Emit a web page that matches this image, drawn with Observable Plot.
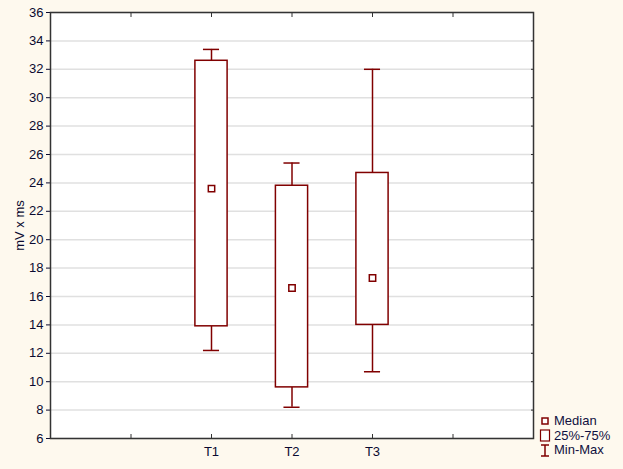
<!DOCTYPE html>
<html><head><meta charset="utf-8">
<script src="https://cdn.jsdelivr.net/npm/d3@7"></script>
<script src="https://cdn.jsdelivr.net/npm/@observablehq/plot@0.6"></script>
<style>
body{margin:0;background:#fef9ee;font-family:Arial,"Liberation Sans",sans-serif;}
#wrap{position:relative;width:623px;height:469px;}
#wrap svg text{font-size:13px;fill:#0a0a30;}
#legend{position:absolute;left:539px;top:414px;font-size:13px;color:#101040;line-height:14.5px;}
#legend div{display:flex;align-items:center;white-space:nowrap;}
#legend svg{margin-right:3px;flex:none;}
</style></head><body><div id="wrap"></div>
<script>
const categories = ["T1", "T2", "T3"];
const positions = [2, 3, 4];
const minVals = [12.2, 8.2, 10.7];
const q1Vals = [13.9, 9.6, 14.0];
const medianVals = [23.6, 16.6, 17.3];
const q3Vals = [32.6, 23.8, 24.7];
const maxVals = [33.4, 25.4, 32.0];
const yTicks = d3.range(6, 37, 2);
const xTicks = [1, 2, 3, 4, 5];
const legendLabels = ["Median", "25%-75%", "Min-Max"];

const data = categories.map((c, i) => ({
  cat: c, x: positions[i], min: minVals[i], q1: q1Vals[i],
  med: medianVals[i], q3: q3Vals[i], max: maxVals[i]
}));
const boxHalf = 0.2, capHalf = 0.1;
const red = "#800000";
const textColor = "#0a0a30";

const chart = Plot.plot({
  width: 623, height: 469,
  marginLeft: 50, marginRight: 90, marginTop: 12, marginBottom: 31,
  style: {background: "transparent", fontFamily: "Arial, 'Liberation Sans', sans-serif", fontSize: "13px", color: textColor, overflow: "visible"},
  x: {domain: [0, 6]},
  y: {domain: [6, 36]},
  marks: [
    Plot.frame({fill: "white"}),
    Plot.gridY(yTicks, {stroke: "#e0e0e0", strokeOpacity: 1, strokeWidth: 1.5}),
    Plot.ruleX(data, {x: "x", y1: "min", y2: "q1", stroke: red, strokeWidth: 1.5}),
    Plot.ruleX(data, {x: "x", y1: "q3", y2: "max", stroke: red, strokeWidth: 1.5}),
    Plot.ruleY(data, {y: "min", x1: d => d.x - capHalf, x2: d => d.x + capHalf, stroke: red, strokeWidth: 1.5}),
    Plot.ruleY(data, {y: "max", x1: d => d.x - capHalf, x2: d => d.x + capHalf, stroke: red, strokeWidth: 1.5}),
    Plot.rect(data, {x1: d => d.x - boxHalf, x2: d => d.x + boxHalf, y1: "q1", y2: "q3", fill: "white", stroke: red, strokeWidth: 1.5}),
    Plot.dot(data, {x: "x", y: "med", symbol: "square", r: 3.6, fill: "white", stroke: red, strokeWidth: 1.5}),
    Plot.axisY({ticks: yTicks, tickSize: 4, tickPadding: 3, label: "mV x ms", labelAnchor: "center", labelArrow: "none", labelOffset: 36}),
    Plot.axisY({ticks: yTicks, anchor: "right", tickSize: -3, tickFormat: () => "", label: null, stroke: "#333"}),
    Plot.axisX({ticks: xTicks, tickSize: 0, tickPadding: 8, label: null,
      tickFormat: d => { const i = positions.indexOf(d); return i >= 0 ? categories[i] : ""; }}),
    Plot.axisX({ticks: xTicks, tickSize: -4, tickFormat: () => "", label: null, stroke: "#333"}),
    Plot.axisX({ticks: xTicks, anchor: "top", tickSize: -4, tickFormat: () => "", label: null, stroke: "#333"}),
    Plot.frame({stroke: "#333", strokeWidth: 1.5})
  ]
});
const wrap = document.getElementById("wrap");
wrap.appendChild(chart);

const icons = [
  `<svg width="12" height="12"><rect x="3" y="3" width="6" height="6" fill="white" stroke="${red}" stroke-width="1.5"/></svg>`,
  `<svg width="12" height="13"><rect x="1.5" y="1" width="9" height="11" fill="white" stroke="${red}" stroke-width="1.2"/></svg>`,
  `<svg width="12" height="13"><path d="M2 1H10M6 1V12M2 12H10" stroke="${red}" stroke-width="1.5" fill="none"/></svg>`
];
const legend = document.createElement("div");
legend.id = "legend";
legend.innerHTML = legendLabels.map((l, i) => `<div>${icons[i]}<span>${l}</span></div>`).join("");
wrap.appendChild(legend);
</script></body></html>
